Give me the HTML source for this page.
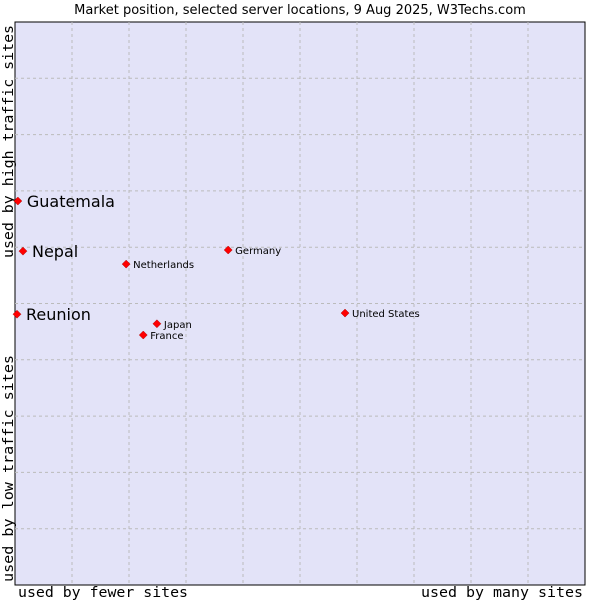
<!DOCTYPE html>
<html><head><meta charset="utf-8"><style>
body{margin:0;background:#fff;}
svg{display:block;font-family:"DejaVu Sans","Liberation Sans",sans-serif;}
</style></head><body>
<svg id="chart" width="600" height="600">
<text x="300" y="14" text-anchor="middle" font-size="13" fill="#000">Market position, selected server locations, 9 Aug 2025, W3Techs.com</text>
<rect x="15" y="22" width="570" height="563" fill="#e3e3f8" stroke="#000" stroke-width="1"/>
<g id="grid"></g>
<text x="18" y="597" textLength="170" lengthAdjust="spacingAndGlyphs" font-family="DejaVu Sans Mono, Liberation Mono, monospace" font-size="14">used by fewer sites</text>
<text x="421" y="597" textLength="162" lengthAdjust="spacingAndGlyphs" font-family="DejaVu Sans Mono, Liberation Mono, monospace" font-size="14">used by many sites</text>
<text transform="translate(13,582) rotate(-90)" textLength="227" lengthAdjust="spacingAndGlyphs" font-family="DejaVu Sans Mono, Liberation Mono, monospace" font-size="14">used by low traffic sites</text>
<text transform="translate(13,258) rotate(-90)" textLength="233" lengthAdjust="spacingAndGlyphs" font-family="DejaVu Sans Mono, Liberation Mono, monospace" font-size="14">used by high traffic sites</text>
<g id="points"></g>
</svg>
<script>
const names = ["Guatemala","Nepal","Reunion","Netherlands","Germany","United States","Japan","France"];
const xValues = [0.5,1.4,0.35,19.5,37.4,57.9,24.9,22.5];
const yValues = [68.2,59.3,48.1,57.0,59.5,48.3,46.4,44.4];
const bigLabels = [true,true,true,false,false,false,false,false];
const NS="http://www.w3.org/2000/svg";
const X0=15,X1=585,Y0=585,Y1=22;
function sx(v){return X0+(X1-X0)*v/100;}
function sy(v){return Y0-(Y0-Y1)*v/100;}
const grid=document.getElementById('grid');
for(let i=1;i<10;i++){
  const v=document.createElementNS(NS,'line');
  v.setAttribute('x1',sx(i*10));v.setAttribute('x2',sx(i*10));v.setAttribute('y1',Y1);v.setAttribute('y2',Y0);
  v.setAttribute('stroke','#bbb');v.setAttribute('stroke-dasharray','3,3');
  
  
  grid.appendChild(v);
  const h=document.createElementNS(NS,'line');
  h.setAttribute('x1',X0);h.setAttribute('x2',X1);h.setAttribute('y1',sy(i*10));h.setAttribute('y2',sy(i*10));
  h.setAttribute('stroke','#bbb');h.setAttribute('stroke-dasharray','3,3');
  
  
  grid.appendChild(h);
}
const pts=document.getElementById('points');
names.forEach((n,i)=>{
  const x=sx(xValues[i]),y=sy(yValues[i]);
  const d=document.createElementNS(NS,'path');
  d.setAttribute('d',`M${x},${y-4}L${x+4},${y}L${x},${y+4}L${x-4},${y}Z`);
  d.setAttribute('fill','#f00');d.setAttribute('stroke','#a00');d.setAttribute('stroke-width','0.5');
  
  
  pts.appendChild(d);
  const t=document.createElementNS(NS,'text');
  const big=bigLabels[i];
  t.setAttribute('x',x+(big?9:7));t.setAttribute('y',y+(big?6:4));
  t.setAttribute('font-size',big?'16':'10');
  t.textContent=n;
  
  
  pts.appendChild(t);
});
</script>
</body></html>
